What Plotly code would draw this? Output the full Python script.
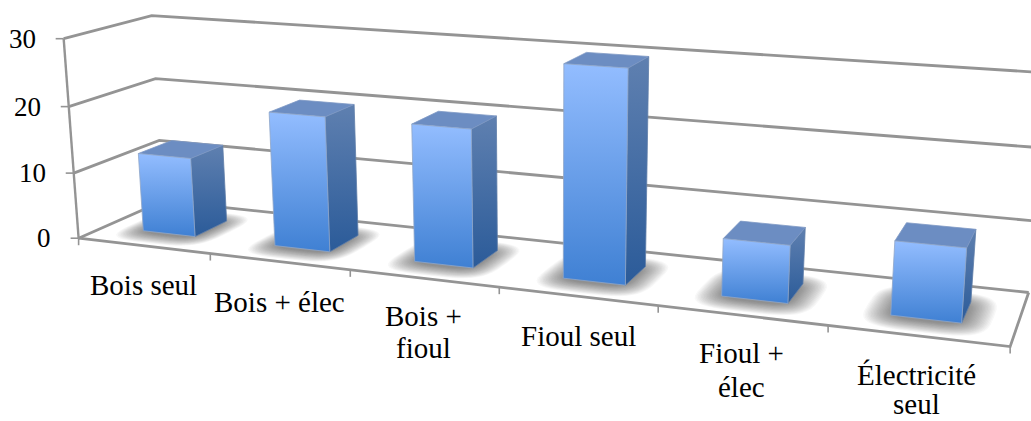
import numpy as np
import plotly.graph_objects as go

# ---- data ----
categories = ["Bois seul", "Bois + élec", "Bois + fioul", "Fioul seul", "Fioul + élec", "Électricité seul"]
values = [12, 20, 20, 30, 8, 10]
y_ticks = [0, 10, 20, 30]

# ---- label layout (pixels) ----
label_lines = [["Bois seul"], ["Bois + élec"], ["Bois +", "fioul"], ["Fioul seul"], ["Fioul +", "élec"], ["Électricité", "seul"]]
label_x = [143, 279, 423, 578, 741, 916]
label_y = [[285], [302], [316, 348], [336], [353, 387], [375, 404]]

# ---- perspective calibration: model (category, depth, value) -> page pixel ----
calib = [
    (0,0,0,79,238),(1,0,0,210,254),(2,0,0,349,270),(3,0,0,498,288),(4,0,0,658,305),(5,0,0,827,325),(6,0,0,1010,346),
    (0,0,10,74,173),(0,0,20,69,106),(0,0,30,63,39),
    (0,1,0,163,202),(0,1,10,159,140),(0,1,20,155,78),(0,1,30,152,15),
    (6,1,0,1028,292),(6,1,10,1034,221),(6,1,20,1040,147),(6,1,30,1046,73),
    (3.3,.3,0,564,278),(3.7,.3,0,627,285),(3.3,.3,30,564,64),(3.7,.3,30,628,68),
    (3.7,.7,0,645,267),(3.7,.7,30,648,58),
    (0.3,.3,0,143,231),(0.7,.3,0,195,237),(0.3,.3,12,139,154),(0.7,.3,12,192,157),
    (5.3,.3,0,891,315),(5.7,.3,0,963,323),(5.3,.3,10,895,242),(5.7,.3,10,967,248),
]
A = []
for X, Y, Z, u, v in calib:
    A.append([X, Y, Z, 1, 0, 0, 0, 0, -u*X, -u*Y, -u*Z, -u])
    A.append([0, 0, 0, 0, X, Y, Z, 1, -v*X, -v*Y, -v*Z, -v])
P = np.linalg.svd(np.array(A, float))[2][-1].reshape(3, 4)

def proj(X, Y, Z):
    h = P @ np.array([X, Y, Z, 1.0])
    return h[0] / h[2], h[1] / h[2]

def poly(points):
    pts = [proj(*p) for p in points]
    pts.append(pts[0])
    return [p[0] for p in pts], [p[1] for p in pts]

GRID = "#949494"
fig = go.Figure()

def line(points, width=2.8, color=GRID):
    xs, ys = zip(*[proj(*p) for p in points])
    fig.add_trace(go.Scatter(x=xs, y=ys, mode="lines", line=dict(color=color, width=width), hoverinfo="skip"))

n = len(categories)
# walls and floor
for t in y_ticks:
    line([(0, 0, t), (0, 1, t), (n, 1, t)])
line([(0, 0, 0), (0, 0, max(y_ticks))], 2.4)
line([(0, 0, 0), (n, 0, 0), (n, 1, 0)])
# tick marks
for t in y_ticks:
    u, v = proj(0, 0, t)
    fig.add_trace(go.Scatter(x=[u - 8, u], y=[v, v], mode="lines", line=dict(color=GRID, width=1.6), hoverinfo="skip"))
for i in range(n + 1):
    u, v = proj(i, 0, 0)
    fig.add_trace(go.Scatter(x=[u, u], y=[v, v + 7], mode="lines", line=dict(color=GRID, width=1.6), hoverinfo="skip"))

X0, X1, Y0, Y1 = 0.3, 0.7, 0.3, 0.7

def face(points, top, bottom, edge):
    xs, ys = poly(points)
    fig.add_trace(go.Scatter(
        x=xs, y=ys, mode="lines", fill="toself", line=dict(color=edge, width=0.8), hoverinfo="skip",
        fillgradient=dict(type="vertical", start=min(ys), stop=max(ys),
                          colorscale=[[0, top], [1, bottom]])))

theta = np.linspace(0, 2*np.pi, 41)[:-1]
sx = np.sign(np.cos(theta))*np.abs(np.cos(theta))**0.55
sy = np.sign(np.sin(theta))*np.abs(np.sin(theta))**0.55
for i, val in enumerate(values):
    a, b = i + X0, i + X1
    # soft floor shadow: stacked translucent rounded outlines, fading outwards
    for e in np.arange(0.16, 0.0, -0.008):
        hx = (b - a)/2 + e
        hy = (Y1 - Y0)/2 + e*1.3
        cx, cy = (a + b)/2, 0.47
        xs, ys = poly([(cx + hx*p, cy + hy*q, 0) for p, q in zip(sx, sy)])
        fig.add_trace(go.Scatter(x=xs, y=ys, mode="none", fill="toself", fillcolor="rgba(40,40,40,0.03)", hoverinfo="skip"))
    # side, top, front
    face([(b, Y0, 0), (b, Y1, 0), (b, Y1, val), (b, Y0, val)], "#5f80b0", "#2b5b99", "#5f7ea8")
    xs, ys = poly([(a, Y0, val), (b, Y0, val), (b, Y1, val), (a, Y1, val)])
    fig.add_trace(go.Scatter(x=xs, y=ys, mode="lines", fill="toself", fillcolor="#6c8dc2", line=dict(color="#7d98c4", width=0.8), hoverinfo="skip"))
    face([(a, Y0, 0), (b, Y0, 0), (b, Y0, val), (a, Y0, val)], "#93bdff", "#3f80d3", "#8fa6c8")

# text
anns = []
for t in y_ticks:
    u, v = proj(0, 0, t)
    anns.append(dict(x=u - 26, y=v, text=str(t), xanchor="right", yanchor="middle", showarrow=False,
                     font=dict(family="Liberation Serif", size=27, color="#000000")))
for lines, lx, lys in zip(label_lines, label_x, label_y):
    for txt, ly in zip(lines, lys):
        anns.append(dict(x=lx, y=ly, text=txt, xanchor="center", yanchor="middle", showarrow=False,
                         font=dict(family="Liberation Serif", size=29, color="#000000")))

fig.update_layout(
    width=1031, height=421, margin=dict(l=0, r=0, t=0, b=0), showlegend=False,
    paper_bgcolor="#ffffff", plot_bgcolor="#ffffff", annotations=anns,
    xaxis=dict(range=[0, 1031], visible=False, fixedrange=True),
    yaxis=dict(range=[421, 0], visible=False, fixedrange=True),
)
fig.write_html("out.html", config=dict(displayModeBar=False),
               post_script="document.body.style.margin='0';")
